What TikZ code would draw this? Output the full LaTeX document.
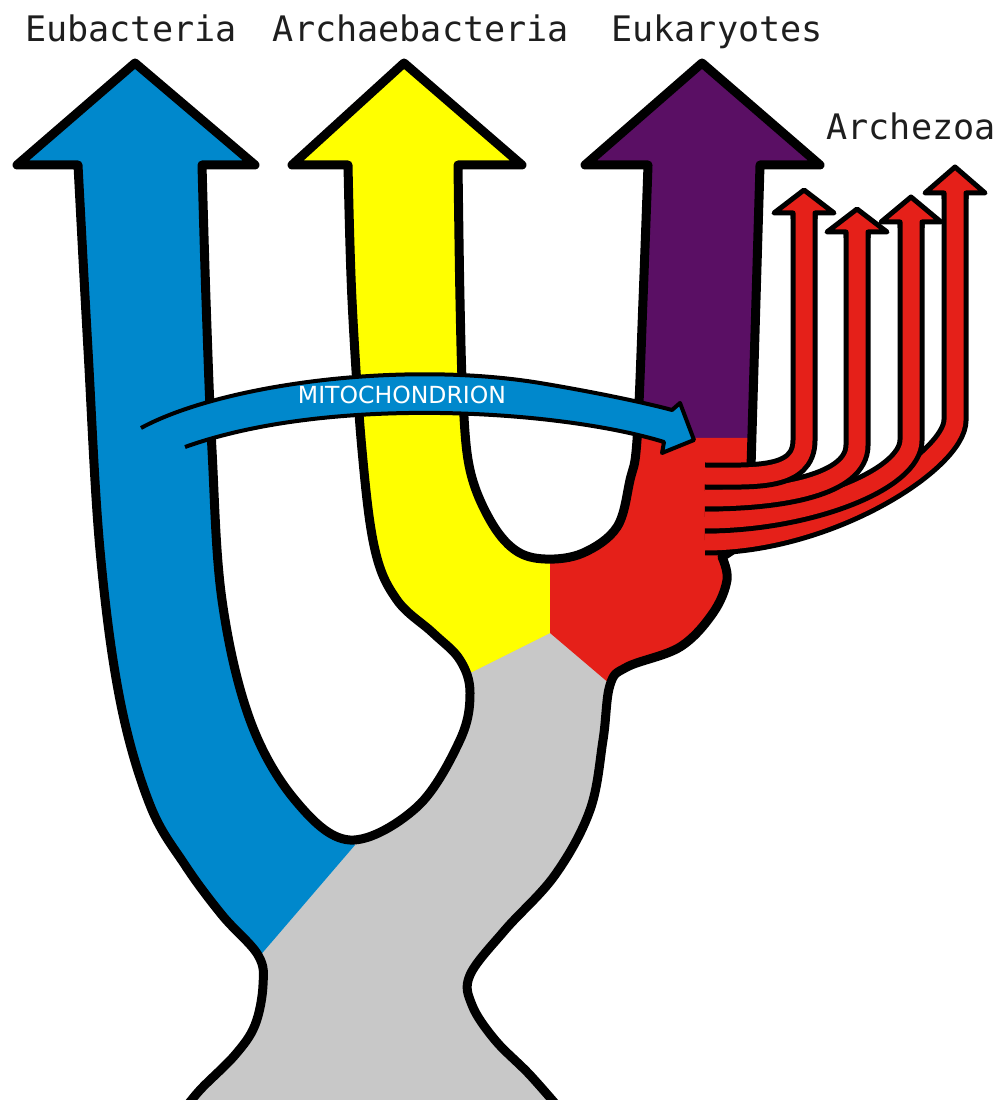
\documentclass[tikz,border=0pt]{standalone}
\usepackage{fontspec}
\newfontfamily\namefont{DejaVu Sans Mono}
\newfontfamily\bandfont{DejaVu Sans}
\usetikzlibrary{arrows.meta}
\definecolor{eublue}{HTML}{0088CC}
\definecolor{archyellow}{HTML}{FFFF00}
\definecolor{eukpurple}{HTML}{5A0F64}
\definecolor{zoared}{HTML}{E52019}
\definecolor{rootgrey}{HTML}{C8C8C8}
\definecolor{inkgrey}{HTML}{1E1E1E}

\begin{document}
\begin{tikzpicture}[
  x=0.1mm, y=-0.1mm,
  outline/.style={draw=black, line width=0.9mm, line join=round},
  branch/.style={draw=black, line width=0.5mm, double=zoared, double distance=1.7mm},
  branchhead/.style={fill=zoared, draw=black, line width=0.5mm, line join=round},
  title/.style={font=\namefont\fontsize{10pt}{12pt}\selectfont, text=inkgrey, anchor=base, inner sep=0pt},
  mitotext/.style={font=\bandfont\fontsize{6.7pt}{8pt}\selectfont, text=white, inner sep=0pt}
]

% Page, in pixels of the original (y runs down)
\useasboundingbox (0,0) rectangle (1006,1100);

% ── Tree body ──
% One outline; the coloured lineages are clipped into it
\path[fill=rootgrey, outline, path picture={
    \fill[eublue] (0,0) -- (270,0) -- (270,700) -- (355,845) -- (258,958) -- (0,958) -- cycle;
    \fill[archyellow] (280,0) -- (550,0) -- (550,633) -- (472,672) -- (280,672) -- cycle;
    \fill[eukpurple] (550,0) -- (850,0) -- (850,438) -- (550,438) -- cycle;
    \fill[zoared] (550,438) -- (850,438) -- (850,600) -- (700,690) -- (610,684) -- (550,633) -- cycle;
  }]
  (78,165) -- (17,165) -- (135,63) -- (255,165) -- (202,165)
  -- plot[smooth, tension=0.6] coordinates {(202,165) (206,300) (212,450) (222,600) (250,720) (295,800) (350,840) (417,807) (460,740) (470,693) (460,660) (433,633) (397,600) (375,550) (362,450) (352,300) (348,165)}
  -- (292,165) -- (404,63) -- (522,165) -- (458,165)
  -- plot[smooth, tension=0.6] coordinates {(458,165) (460,300) (463,400) (470,470) (490,520) (515,550) (545,559) (583,553) (617,527) (630,480) (637,440) (643,300) (648,165)}
  -- (585,165) -- (702,63) -- (820,165) -- (760,165)
  -- (751,467) -- (740,475) -- (740,545) -- (722,557)
  -- plot[smooth, tension=0.6] coordinates {(722,557) (727,580) (713,613) (680,647) (627,667) (610,685) (603,740) (590,810) (555,875) (505,930) (470,975) (472,1005) (495,1040) (530,1075) (565,1115)}
  -- (180,1115)
  -- plot[smooth, tension=0.6] coordinates {(180,1115) (200,1090) (235,1055) (255,1025) (263,985) (258,955) (222,915) (185,865) (150,805) (120,700) (100,550) (88,350) (78,165)}
  -- cycle;

% ── Mitochondrion band ──
\filldraw[fill=eublue, draw=black, line width=0.4mm, line join=round]
  (141,428) .. controls (220,385) and (400,360) .. (540,383)
  .. controls (600,393) and (650,404) .. (672,410)
  -- (680,403) -- (694,440) -- (662,453) -- (664,442)
  .. controls (560,410) and (330,395) .. (185,447);
\node[mitotext] (mito) at (402,395) {MITOCHONDRION};

% ── Archezoa branches ──
% x / head base / tip / end of stem / finger height
\foreach \bx/\bbase/\btip/\bbend/\bend in
    {955/193/167/420/542, 911/222/197/440/520, 857/232/209/445/498, 804/213/190/440/476} {
  \draw[branch] (\bx,\bbase) -- (\bx,\bbend)
    .. controls (\bx,{\bbend+40}) and ({(\bx+705)/2},\bend) .. (705,\bend);
  \filldraw[branchhead] ({\bx-11},{\bbase+6}) -- ({\bx-11},\bbase) -- ({\bx-30},\bbase)
    -- (\bx,\btip) -- ({\bx+30},\bbase) -- ({\bx+11},\bbase) -- ({\bx+11},{\bbase+6});
}

% ── Names ──
\node[title] (eub) at (131,42) {Eubacteria};
\node[title] (arch) at (421,42) {Archaebacteria};
\node[title] (euk) at (717,42) {Eukaryotes};
\node[title] (zoa) at (911,140) {Archezoa};

\end{tikzpicture}
\end{document}
